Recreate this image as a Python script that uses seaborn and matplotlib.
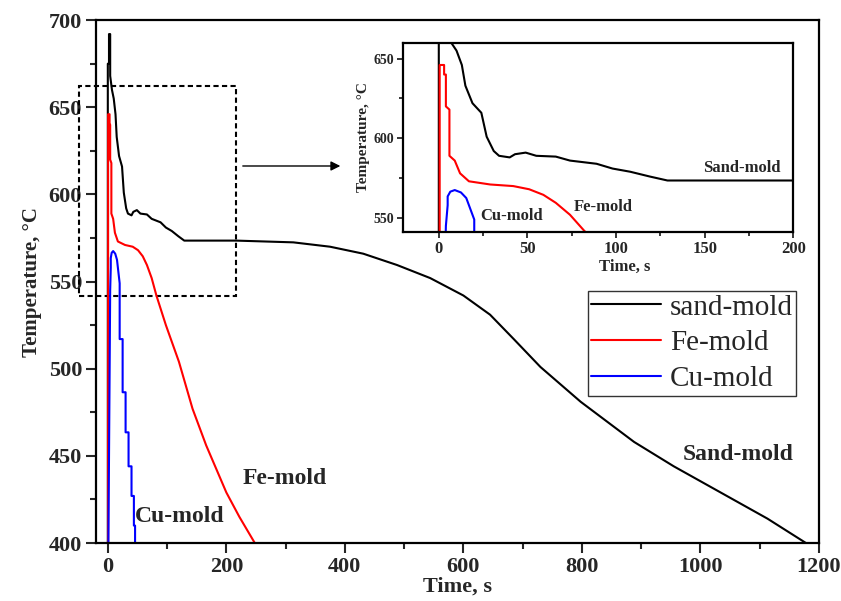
import matplotlib
matplotlib.use('Agg')
import matplotlib.pyplot as plt
from matplotlib.patches import Rectangle
from matplotlib.ticker import MultipleLocator
import seaborn as sns

# data (time in s, temperature in degC)
sand_t = [0, 0, 2, 2, 4, 4, 7, 10, 13, 15, 19, 24, 27, 31, 34, 40, 43, 49, 55, 66, 74, 89, 98, 108, 119, 129,
          217, 313, 375, 431, 488, 544, 600, 645, 685, 730, 798, 888, 955, 1034, 1113, 1178]
sand_T = [400, 675, 675, 692, 692, 668, 660, 655, 646, 633, 622, 616, 601, 592, 589, 588, 590, 591, 589, 588.5,
          586, 584, 581, 579, 576, 573.5, 573.5, 572.5, 570, 566, 559.5, 552, 542, 531, 517, 501, 481, 458, 444,
          429, 414, 400]

fe_t = [0.5, 0.5, 3, 3, 4, 4, 6, 6, 9, 12, 17, 29, 42, 51, 59, 66, 74, 82, 98, 120, 143, 166, 200, 222, 248]
fe_T = [400, 646, 646, 640, 640, 620, 618, 589, 586, 578, 573, 571, 570, 568, 564.5, 559.5, 552, 542, 525,
        504, 477, 456, 429, 415, 400]

cu_t = [1, 4, 5, 5, 6.5, 9, 12.5, 15.5, 18, 20, 20, 25, 25, 30, 30, 35, 35, 40, 40, 44, 44, 46, 46]
cu_T = [400, 545, 558, 563.5, 566.5, 567.5, 566, 562.5, 555, 549, 517, 517, 486.5, 486.5, 463.5, 463.5,
        444, 444, 427, 427, 410, 410, 400]

labels = ['sand-mold', 'Fe-mold', 'Cu-mold']
colors = ['black', 'red', 'blue']

sns.set_style('ticks')
plt.rcParams['font.family'] = ['Liberation Serif', 'DejaVu Serif']
plt.rcParams['font.weight'] = 'bold'
plt.rcParams['axes.labelweight'] = 'bold'

fig = plt.figure(figsize=(8.41, 6.01), dpi=100)
ax = fig.add_axes([0.1141, 0.0965, 0.8597, 0.870])

series = [(sand_t, sand_T), (fe_t, fe_T), (cu_t, cu_T)]
for (t, T), lab, c in zip(series, labels, colors):
    sns.lineplot(x=t, y=T, ax=ax, color=c, lw=1.5, sort=False, estimator=None, label=lab)

ax.set_xlim(-20, 1200)
ax.set_ylim(400, 700)
ax.xaxis.set_major_locator(MultipleLocator(200))
ax.xaxis.set_minor_locator(MultipleLocator(100))
ax.yaxis.set_major_locator(MultipleLocator(50))
ax.yaxis.set_minor_locator(MultipleLocator(25))
ax.tick_params(which='major', direction='out', length=7, width=1.5, labelsize=16, pad=3)
ax.tick_params(which='minor', direction='out', length=4.5, width=1.5)
for s in ax.spines.values():
    s.set_linewidth(1.6)
    s.set_color('black')
ax.set_xlabel('Time, s', fontsize=16, labelpad=0)
ax.set_ylabel('Temperature, °C', fontsize=15, labelpad=5)

ax.text(1063, 451, 'Sand-mold', fontsize=17, ha='center', va='center')
ax.text(299, 437, 'Fe-mold', fontsize=17, ha='center', va='center')
ax.text(122, 415, 'Cu-mold', fontsize=17, ha='center', va='center')

leg = ax.legend(loc='upper left', bbox_to_anchor=(0.680, 0.4824), borderaxespad=0,
                prop={'family': 'Liberation Serif', 'weight': 'normal', 'size': 21},
                frameon=True, fancybox=False, handlelength=2.4, handletextpad=0.3,
                labelspacing=0.32, borderpad=0.12)
leg.get_frame().set_edgecolor('black')
leg.get_frame().set_linewidth(1.0)
for ln in leg.get_lines():
    ln.set_linewidth(1.5)

# zoom box
ax.add_patch(Rectangle((-48, 542), 264, 120, fill=False, ec='black', lw=1.5,
                       ls=(0, (2.5, 1.6)), clip_on=False))
ax.annotate('', xy=(0.408, 0.7238), xytext=(0.2854, 0.7238), xycoords='figure fraction',
            textcoords='figure fraction',
            arrowprops=dict(arrowstyle='-|>', lw=1, color='black', mutation_scale=14))

# inset
axi = fig.add_axes([0.4796, 0.6135, 0.4637, 0.3155])
for (t, T), c in zip(series, colors):
    sns.lineplot(x=t, y=T, ax=axi, color=c, lw=1.5, sort=False, estimator=None)
axi.set_xlim(-20, 200)
axi.set_ylim(541, 660)
axi.xaxis.set_major_locator(MultipleLocator(50))
axi.xaxis.set_minor_locator(MultipleLocator(25))
axi.yaxis.set_major_locator(MultipleLocator(50))
axi.yaxis.set_minor_locator(MultipleLocator(25))
axi.tick_params(which='major', direction='out', length=4.5, width=1.3, pad=2)
axi.tick_params(which='minor', direction='out', length=3, width=1.3)
axi.tick_params(axis='x', labelsize=12)
axi.tick_params(axis='y', labelsize=10)
for s in axi.spines.values():
    s.set_linewidth(1.6)
    s.set_color('black')
axi.set_xlabel('Time, s', fontsize=12, labelpad=0)
axi.xaxis.set_label_coords(0.568, -0.14)
axi.set_ylabel('Temperature, °C', fontsize=11, labelpad=3)
axi.text(171, 581.5, 'Sand-mold', fontsize=12, ha='center', va='center')
axi.text(93, 557, 'Fe-mold', fontsize=12, ha='center', va='center')
axi.text(41, 551.5, 'Cu-mold', fontsize=12, ha='center', va='center')

fig.savefig('out.png', dpi=100)
